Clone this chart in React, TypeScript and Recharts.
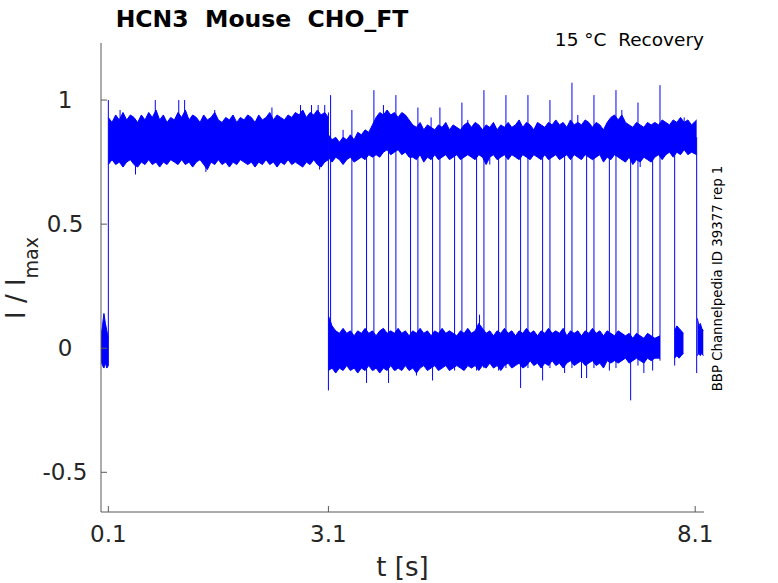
import { Area, ComposedChart, Line, XAxis, YAxis } from "recharts";

const W = 778;
const H = 583;
const PLOT_LEFT = 101;
const PLOT_BOTTOM = 512;
const margin = { top: 43, right: 74, bottom: 0, left: 0 };
const BLUE = "#0000ff";
const AXIS = "#595959";
const TEXT = "#262626";
const FONT = "DejaVu Sans";

const xTicks = [0.1, 3.1, 8.1];
const yTicks = [-0.5, 0, 0.5, 1];

// holding level before the first step
const holdTime = [0, 0.02, 0.04, 0.06, 0.08, 0.1];
const holdLow = [-0.05, -0.07, -0.08, -0.06, -0.08, -0.07];
const holdHigh = [0.05, 0.09, 0.14, 0.1, 0.07, 0.04];

// first pulse plateau (all sweeps)
const plateauTime = [
  0.1, 0.15, 0.2, 0.25, 0.3, 0.35, 0.4, 0.45, 0.5, 0.55,
  0.6, 0.65, 0.7, 0.75, 0.8, 0.85, 0.9, 0.95, 1.0, 1.05,
  1.1, 1.15, 1.2, 1.25, 1.3, 1.35, 1.4, 1.45, 1.5, 1.55,
  1.6, 1.65, 1.7, 1.75, 1.8, 1.85, 1.9, 1.95, 2.0, 2.05,
  2.1, 2.15, 2.2, 2.25, 2.3, 2.35, 2.4, 2.45, 2.5, 2.55,
  2.6, 2.65, 2.7, 2.75, 2.8, 2.85, 2.9, 2.95, 3.0, 3.05,
  3.1,
];
const plateauHigh = [
  0.93, 0.91, 0.94, 0.92, 0.95, 0.92, 0.94, 0.93, 0.91, 0.94,
  0.92, 0.95, 0.93, 0.96, 0.92, 0.94, 0.91, 0.93, 0.92, 0.95,
  0.93, 0.96, 0.92, 0.94, 0.93, 0.91, 0.94, 0.92, 0.93, 0.95,
  0.92, 0.91, 0.93, 0.92, 0.94, 0.91, 0.93, 0.92, 0.94, 0.93,
  0.91, 0.94, 0.92, 0.93, 0.95, 0.92, 0.94, 0.93, 0.92, 0.94,
  0.93, 0.95, 0.94, 0.96, 0.93, 0.95, 0.94, 0.96, 0.94, 0.95,
  0.93,
];
const plateauLow = [
  0.74, 0.76, 0.74, 0.75, 0.73, 0.75, 0.76, 0.74, 0.73, 0.75,
  0.74, 0.76, 0.74, 0.75, 0.73, 0.75, 0.74, 0.76, 0.75, 0.74,
  0.76, 0.74, 0.75, 0.73, 0.75, 0.76, 0.74, 0.72, 0.75, 0.74,
  0.76, 0.74, 0.75, 0.73, 0.75, 0.74, 0.76, 0.75, 0.74, 0.75,
  0.73, 0.75, 0.74, 0.76, 0.74, 0.75, 0.73, 0.75, 0.74, 0.76,
  0.74, 0.75, 0.74, 0.73, 0.75, 0.74, 0.76, 0.74, 0.73, 0.75,
  0.76,
];

// second pulse plateau (recovered sweeps)
const recoveredTime = [
  3.1, 3.15, 3.2, 3.25, 3.3, 3.35, 3.4, 3.45, 3.5,
  3.55, 3.6, 3.65, 3.7,
  3.75, 3.8, 3.85, 3.9, 3.95, 4.0, 4.05, 4.1, 4.15, 4.2,
  4.25, 4.3, 4.35, 4.4, 4.45, 4.5,
  4.55, 4.6, 4.65, 4.7, 4.75, 4.8, 4.85, 4.9, 4.95, 5.0,
  5.05, 5.1, 5.15, 5.2, 5.25, 5.3, 5.35, 5.4, 5.45, 5.5,
  5.55, 5.6, 5.65, 5.7, 5.75, 5.8, 5.85, 5.9, 5.95, 6.0,
  6.05, 6.1, 6.15, 6.2, 6.25, 6.3, 6.35, 6.4, 6.45, 6.5,
  6.55, 6.6, 6.65, 6.7, 6.75, 6.8, 6.85, 6.9, 6.95, 7.0,
  7.05, 7.1, 7.15, 7.2, 7.25, 7.3, 7.35, 7.4, 7.45, 7.5,
  7.55, 7.6, 7.65, 7.7, 7.75, 7.8, 7.85, 7.9, 7.95, 8.0, 8.05,
  8.12,
];
const recoveredHigh = [
  0.86, 0.84, 0.85, 0.83, 0.85, 0.84, 0.86, 0.84, 0.87,
  0.86, 0.88, 0.87, 0.9,
  0.93, 0.95, 0.94, 0.96, 0.94, 0.95, 0.93, 0.95, 0.94, 0.92,
  0.9, 0.89, 0.91, 0.88, 0.9, 0.89,
  0.88, 0.9, 0.89, 0.91, 0.88, 0.9, 0.89, 0.88, 0.9, 0.91,
  0.89, 0.91, 0.9, 0.88, 0.9, 0.89, 0.91, 0.88, 0.9, 0.89,
  0.91, 0.89, 0.9, 0.92, 0.89, 0.91, 0.9, 0.88, 0.91, 0.9,
  0.89, 0.91, 0.9, 0.92, 0.9, 0.91, 0.89, 0.92, 0.9, 0.91,
  0.9, 0.92, 0.91, 0.89, 0.91, 0.9, 0.88, 0.91, 0.93, 0.94,
  0.92, 0.94, 0.91, 0.9, 0.89, 0.91, 0.9, 0.89, 0.91, 0.9,
  0.91, 0.9, 0.92, 0.91, 0.9, 0.92, 0.91, 0.93, 0.91, 0.92, 0.9,
  0.92,
];
const recoveredLow = [
  0.77, 0.75, 0.77, 0.76, 0.74, 0.76, 0.77, 0.75, 0.76,
  0.77, 0.76, 0.78, 0.77,
  0.78, 0.77, 0.79, 0.8, 0.78, 0.79, 0.8, 0.78, 0.79, 0.77,
  0.77, 0.76, 0.78, 0.75, 0.77, 0.76,
  0.78, 0.76, 0.77, 0.78, 0.76, 0.77, 0.78, 0.76, 0.77, 0.78,
  0.77, 0.76, 0.78, 0.77, 0.74, 0.77, 0.78, 0.76, 0.77, 0.78,
  0.76, 0.78, 0.77, 0.76, 0.78, 0.77, 0.76, 0.78, 0.77, 0.76,
  0.78, 0.76, 0.77, 0.78, 0.76, 0.77, 0.78, 0.76, 0.78, 0.77,
  0.76, 0.78, 0.77, 0.76, 0.77, 0.78, 0.75, 0.77, 0.76, 0.78,
  0.77, 0.76, 0.75, 0.77, 0.74, 0.76, 0.75, 0.77, 0.76, 0.75,
  0.77, 0.78, 0.76, 0.78, 0.79, 0.77, 0.79, 0.78, 0.8, 0.78, 0.79,
  0.78,
];

// deactivated sweeps waiting for the second pulse
const closedTime = [
  3.1, 3.15, 3.2, 3.25, 3.3, 3.35, 3.4, 3.45, 3.5,
  3.55, 3.6, 3.65, 3.7, 3.75, 3.8, 3.85, 3.9, 3.95, 4.0,
  4.05, 4.1, 4.15, 4.2, 4.25, 4.3, 4.35, 4.4, 4.45, 4.5,
  4.55, 4.6, 4.65, 4.7, 4.75, 4.8, 4.85, 4.9, 4.95, 5.0,
  5.05, 5.1, 5.15, 5.2, 5.25, 5.3, 5.35, 5.4, 5.45, 5.5,
  5.55, 5.6, 5.65, 5.7, 5.75, 5.8, 5.85, 5.9, 5.95, 6.0,
  6.05, 6.1, 6.15, 6.2, 6.25, 6.3, 6.35, 6.4, 6.45, 6.5,
  6.55, 6.6, 6.65, 6.7, 6.75, 6.8, 6.85, 6.9, 6.95, 7.0,
  7.05, 7.1, 7.15, 7.2, 7.25, 7.3, 7.35, 7.4, 7.45, 7.5, 7.55,
  7.62,
];
const closedHigh = [
  0.13, 0.09, 0.07, 0.06, 0.08, 0.06, 0.07, 0.05, 0.07,
  0.06, 0.08, 0.06, 0.07, 0.05, 0.07, 0.08, 0.06, 0.07, 0.06,
  0.08, 0.06, 0.07, 0.05, 0.07, 0.06, 0.08, 0.06, 0.07, 0.05,
  0.07, 0.06, 0.08, 0.06, 0.07, 0.06, 0.05, 0.07, 0.06, 0.08,
  0.06, 0.07, 0.1, 0.08, 0.06, 0.07, 0.05, 0.07, 0.06, 0.08,
  0.06, 0.07, 0.05, 0.07, 0.06, 0.08, 0.06, 0.07, 0.05, 0.07,
  0.06, 0.08, 0.06, 0.07, 0.06, 0.08, 0.05, 0.07, 0.06, 0.07,
  0.05, 0.07, 0.06, 0.08, 0.06, 0.07, 0.05, 0.07, 0.06, 0.05,
  0.07, 0.06, 0.05, 0.06, 0.04, 0.06, 0.05, 0.04, 0.06, 0.05, 0.04,
  0.05,
];
const closedLow = [
  -0.09, -0.08, -0.1, -0.08, -0.09, -0.07, -0.09, -0.08, -0.1,
  -0.08, -0.09, -0.07, -0.09, -0.08, -0.1, -0.08, -0.09, -0.07, -0.09,
  -0.08, -0.09, -0.07, -0.09, -0.08, -0.1, -0.08, -0.07, -0.09, -0.08,
  -0.07, -0.09, -0.08, -0.07, -0.09, -0.08, -0.07, -0.08, -0.09, -0.07,
  -0.08, -0.07, -0.09, -0.07, -0.08, -0.06, -0.08, -0.07, -0.09, -0.07,
  -0.06, -0.08, -0.07, -0.06, -0.08, -0.07, -0.05, -0.07, -0.06, -0.08,
  -0.06, -0.07, -0.05, -0.07, -0.06, -0.08, -0.06, -0.05, -0.07, -0.06,
  -0.05, -0.07, -0.06, -0.05, -0.07, -0.06, -0.08, -0.05, -0.06, -0.05,
  -0.06, -0.05, -0.04, -0.06, -0.05, -0.04, -0.05, -0.06, -0.04, -0.05, -0.04,
  -0.04,
];

// short baseline pieces at the end of sweeps
const tailATime = [7.82, 7.85, 7.88, 7.91, 7.94];
const tailALow = [-0.04, -0.03, -0.04, -0.03, -0.02];
const tailAHigh = [0.07, 0.09, 0.08, 0.07, 0.06];
const tailBTime = [8.13, 8.15, 8.17, 8.19, 8.21];
const tailBLow = [-0.03, -0.02, -0.03, -0.02, -0.03];
const tailBHigh = [0.12, 0.09, 0.1, 0.08, 0.07];

// step transitions (vertical jumps between levels)
const stepTime = [
  0.1, 3.1, 3.13, 3.42, 3.62, 3.72, 3.92, 4.02, 4.22, 4.32, 4.52, 4.62, 4.82, 4.92, 5.12, 5.22, 5.42,
  5.52, 5.72, 5.82, 6.02, 6.12, 6.32, 6.42, 6.62, 6.72, 6.93, 7.02, 7.22, 7.32, 7.52, 7.62, 7.82, 8.12,
];
const stepLow = [
  -0.07, -0.17, 0.05, -0.08, -0.14, -0.09, -0.14, -0.09, -0.08, -0.09, -0.13, -0.08, -0.09, -0.08, -0.09, -0.08, -0.09,
  -0.08, -0.16, -0.08, -0.13, -0.08, -0.1, -0.08, -0.12, -0.08, -0.09, -0.08, -0.21, -0.07, -0.09, -0.05, -0.07, -0.1,
];
const stepHigh = [
  1.0, 0.95, 1.02, 0.96, 0.84, 1.04, 0.88, 1.02, 0.88, 0.97, 0.86, 0.97, 0.86, 0.99, 0.86, 1.04, 0.86,
  1.02, 0.87, 1.02, 0.86, 1.0, 0.86, 1.07, 0.86, 1.02, 0.86, 1.04, 0.86, 0.99, 0.86, 1.06, 0.9, 0.85,
];

// isolated noise spikes
const spikeTime = [
  0.26, 0.47, 0.74, 1.06, 1.14, 1.43, 1.55, 2.33, 2.72, 2.87, 2.96, 2.98, 3.05,
  3.3, 3.85, 4.3, 4.5, 5.0, 5.16, 5.3, 6.5, 6.55, 7.1, 7.35, 7.4, 7.95,
];
const spikeLow = [
  0.9, 0.7, 0.9, 0.9, 0.9, 0.71, 0.9, 0.9, 0.9, 0.9, 0.9, 0.72, 0.9,
  0.8, 0.9, -0.11, 0.85, 0.85, 0.0, 0.74, 0.85, -0.12, 0.85, 0.73, -0.1, 0.85,
];
const spikeHigh = [
  0.96, 0.78, 1.0, 1.0, 1.0, 0.78, 0.96, 0.97, 0.98, 0.98, 0.98, 0.8, 0.98,
  0.88, 0.98, 0.0, 0.93, 0.92, 0.135, 0.8, 0.94, 0.0, 0.96, 0.8, 0.0, 0.93,
];

const band = (ts: number[], lo: number[], hi: number[]) =>
  ts.map((t, i) => ({ t, range: [lo[i], hi[i]] }));

const segments = (ts: number[], lo: number[], hi: number[]) =>
  ts.flatMap((t, i) => [
    { t, v: lo[i] },
    { t, v: hi[i] },
    { t, v: null },
  ]);

const bands = [
  band(holdTime, holdLow, holdHigh),
  band(plateauTime, plateauLow, plateauHigh),
  band(recoveredTime, recoveredLow, recoveredHigh),
  band(closedTime, closedLow, closedHigh),
  band(tailATime, tailALow, tailAHigh),
  band(tailBTime, tailBLow, tailBHigh),
];
const stepData = segments(stepTime, stepLow, stepHigh);
const spikeData = segments(spikeTime, spikeLow, spikeHigh);

const XTick = (props: any) => {
  const { x, payload } = props;
  return (
    <g>
      <line x1={x} x2={x} y1={PLOT_BOTTOM} y2={PLOT_BOTTOM - 6} stroke={AXIS} />
      <text x={x} y={PLOT_BOTTOM + 30} textAnchor="middle" fontSize={23} fontFamily={FONT} fill={TEXT}>
        {payload.value}
      </text>
    </g>
  );
};

const YTick = (props: any) => {
  const { y, payload } = props;
  return (
    <g>
      <line x1={PLOT_LEFT} x2={PLOT_LEFT + 6} y1={y} y2={y} stroke={AXIS} />
      <text x={65} y={y + 8} textAnchor="middle" fontSize={23} fontFamily={FONT} fill={TEXT}>
        {String(payload.value)}
      </text>
    </g>
  );
};

export default function App() {
  return (
    <div style={{ position: "absolute", left: 0, top: 0, width: W, height: H, background: "#fff" }}>
      <ComposedChart width={W} height={H} margin={margin}>
        <XAxis
          dataKey="t"
          type="number"
          domain={[0, 8.22]}
          ticks={xTicks}
          allowDataOverflow
          height={H - PLOT_BOTTOM}
          tickLine={false}
          axisLine={{ stroke: AXIS }}
          tick={<XTick />}
        />
        <YAxis
          type="number"
          domain={[-0.66, 1.23]}
          ticks={yTicks}
          allowDataOverflow
          width={PLOT_LEFT}
          tickLine={false}
          axisLine={{ stroke: AXIS }}
          tick={<YTick />}
        />
        {bands.map((d, i) => (
          <Area
            key={i}
            data={d}
            dataKey="range"
            type="linear"
            stroke={BLUE}
            strokeWidth={1}
            fill={BLUE}
            fillOpacity={1}
            dot={false}
            activeDot={false}
            isAnimationActive={false}
          />
        ))}
        <Line
          data={stepData}
          dataKey="v"
          type="linear"
          stroke={BLUE}
          strokeWidth={1}
          dot={false}
          activeDot={false}
          connectNulls={false}
          isAnimationActive={false}
        />
        <Line
          data={spikeData}
          dataKey="v"
          type="linear"
          stroke={BLUE}
          strokeWidth={1}
          dot={false}
          activeDot={false}
          connectNulls={false}
          isAnimationActive={false}
        />
      </ComposedChart>
      <svg
        width={W}
        height={H}
        style={{ position: "absolute", left: 0, top: 0, pointerEvents: "none" }}
        fontFamily={FONT}
      >
        <text x={262} y={27} textAnchor="middle" fontSize={23.5} fontWeight="bold" fill="#000">
          {"HCN3\u00a0 Mouse\u00a0 CHO_FT"}
        </text>
        <text x={704} y={46} textAnchor="end" fontSize={18.5} fill="#000">
          {"15 °C\u00a0 Recovery"}
        </text>
        <text transform="translate(722,278.5) rotate(-90)" textAnchor="middle" fontSize={13.3} fill="#000">
          BBP Channelpedia ID 39377 rep 1
        </text>
        <text transform="translate(25,278) rotate(-90)" textAnchor="middle" fontSize={26} fill={TEXT}>
          I / I
          <tspan fontSize={19} dy={13}>
            max
          </tspan>
        </text>
        <text x={402.5} y={576} textAnchor="middle" fontSize={26} fill={TEXT}>
          t [s]
        </text>
      </svg>
    </div>
  );
}
